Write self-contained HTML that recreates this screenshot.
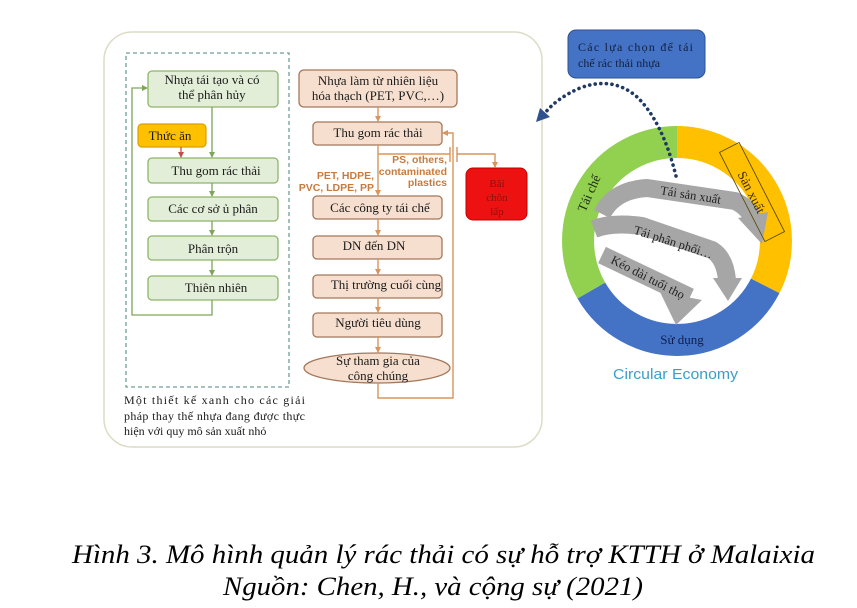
<!DOCTYPE html>
<html><head><meta charset="utf-8"><style>
html,body{margin:0;padding:0;background:#fff;}
svg{display:block;}
text{font-family:"Liberation Serif","DejaVu Serif",serif;}
.s{font-family:"Liberation Sans","DejaVu Sans",sans-serif;}
</style></head><body>
<svg width="857" height="608" viewBox="0 0 857 608" xmlns="http://www.w3.org/2000/svg">
<defs>
<marker id="ag" markerWidth="6" markerHeight="6" refX="5" refY="3" orient="auto" markerUnits="userSpaceOnUse"><path d="M0,0 L6,3 L0,6 z" fill="#7da65a"/></marker>
<marker id="ao" markerWidth="6" markerHeight="6" refX="5" refY="3" orient="auto" markerUnits="userSpaceOnUse"><path d="M0,0 L6,3 L0,6 z" fill="#d9955b"/></marker>
<marker id="ar" markerWidth="6" markerHeight="6" refX="5" refY="3" orient="auto" markerUnits="userSpaceOnUse"><path d="M0,0 L6,3 L0,6 z" fill="#c0504d"/></marker>
</defs>

<!-- outer rounded frame -->
<rect x="104" y="32" width="438" height="415" rx="28" fill="#fff" stroke="#dcdcc6" stroke-width="1.5"/>
<!-- dashed green region -->
<rect x="126" y="53" width="163" height="334" fill="none" stroke="#6f9e9a" stroke-width="1.3" stroke-dasharray="4,3"/>

<!-- left column green boxes -->
<g fill="#e3eed8" stroke="#8fb56a" stroke-width="1.3">
<rect x="148" y="71" width="130" height="36" rx="4"/>
<rect x="148" y="158" width="130" height="25" rx="4"/>
<rect x="148" y="197" width="130" height="24" rx="4"/>
<rect x="148" y="236" width="130" height="24" rx="4"/>
<rect x="148" y="276" width="130" height="24" rx="4"/>
</g>
<rect x="138" y="124" width="68" height="23" rx="4" fill="#ffc000" stroke="#d9a000" stroke-width="1.2"/>

<!-- left connectors -->
<g stroke="#7da65a" stroke-width="1.3" fill="none">
<line x1="212" y1="107" x2="212" y2="157" marker-end="url(#ag)"/>
<line x1="212" y1="183" x2="212" y2="196" marker-end="url(#ag)"/>
<line x1="212" y1="221" x2="212" y2="235" marker-end="url(#ag)"/>
<line x1="212" y1="260" x2="212" y2="275" marker-end="url(#ag)"/>
<polyline points="212,300 212,315 132,315 132,88 147,88" marker-end="url(#ag)"/>
</g>
<line x1="181" y1="147" x2="181" y2="157" stroke="#c0504d" stroke-width="1.3" marker-end="url(#ar)"/>

<g font-size="13" fill="#1b1b1b" text-anchor="middle">
<text x="212" y="84">Nhựa tái tạo và có</text>
<text x="212" y="99">thể phân hủy</text>
<text x="170" y="140">Thức ăn</text>
<text x="216" y="175">Thu gom rác thải</text>
<text x="213" y="213">Các cơ sở ủ phân</text>
<text x="213" y="253">Phân trộn</text>
<text x="216" y="292">Thiên nhiên</text>
</g>

<g font-size="12" fill="#1b1b1b">
<text x="124" y="404" textLength="181" lengthAdjust="spacing">Một thiết kế xanh cho các giải</text>
<text x="124" y="420" textLength="181" lengthAdjust="spacing">pháp thay thế nhựa đang được thực</text>
<text x="124" y="435">hiện với quy mô sản xuất nhỏ</text>
</g>

<!-- right column boxes -->
<g fill="#f6dfcf" stroke="#a4785a" stroke-width="1.3">
<rect x="299" y="70" width="158" height="37" rx="5"/>
<rect x="313" y="122" width="129" height="23" rx="4"/>
<rect x="313" y="196" width="129" height="23" rx="4"/>
<rect x="313" y="236" width="129" height="23" rx="4"/>
<rect x="313" y="275" width="129" height="23" rx="4"/>
<rect x="313" y="313" width="129" height="24" rx="4"/>
<ellipse cx="377" cy="368" rx="73" ry="15"/>
</g>
<rect x="466" y="168" width="61" height="52" rx="7" fill="#ee1111" stroke="#c00000" stroke-width="1"/>

<g stroke="#d9955b" stroke-width="1.4" fill="none">
<line x1="378" y1="107" x2="378" y2="121" marker-end="url(#ao)"/>
<line x1="378" y1="145" x2="378" y2="195" marker-end="url(#ao)"/>
<line x1="378" y1="154" x2="450" y2="154"/>
<line x1="450" y1="147" x2="450" y2="162"/>
<line x1="457" y1="147" x2="457" y2="162"/>
<polyline points="457,154 495,154 495,167" marker-end="url(#ao)"/>
<line x1="378" y1="219" x2="378" y2="235" marker-end="url(#ao)"/>
<line x1="378" y1="259" x2="378" y2="274" marker-end="url(#ao)"/>
<line x1="378" y1="298" x2="378" y2="312" marker-end="url(#ao)"/>
<line x1="378" y1="337" x2="378" y2="352" marker-end="url(#ao)"/>
<polyline points="378,383 378,398 453,398 453,133 443,133" marker-end="url(#ao)"/>
</g>

<g font-size="13" fill="#1b1b1b" text-anchor="middle">
<text x="378" y="85">Nhựa làm từ nhiên liệu</text>
<text x="378" y="100">hóa thạch (PET, PVC,…)</text>
<text x="378" y="137">Thu gom rác thải</text>
<text x="380" y="212">Các công ty tái chế</text>
<text x="374" y="250">DN đến DN</text>
<text x="386" y="289">Thị trường cuối cùng</text>
<text x="378" y="327">Người tiêu dùng</text>
<text x="378" y="365">Sự tham gia của</text>
<text x="378" y="380">công chúng</text>
</g>
<g font-size="10.5" font-weight="bold" fill="#c77b3e" text-anchor="end" class="s">
<text x="374" y="179" class="s">PET, HDPE,</text>
<text x="374" y="191" class="s">PVC, LDPE, PP</text>
<text x="447" y="163" class="s">PS, others,</text>
<text x="447" y="175" class="s">contaminated</text>
<text x="447" y="186" class="s">plastics</text>
</g>
<g font-size="11" fill="#8a1010" text-anchor="middle">
<text x="497" y="187">Bãi</text>
<text x="497" y="201">chôn</text>
<text x="497" y="215">lấp</text>
</g>

<!-- blue box -->
<rect x="568" y="30" width="137" height="48" rx="8" fill="#4472c4" stroke="#2f528f" stroke-width="1"/>
<g font-size="12" fill="#14213f">
<text x="578" y="51" textLength="115" lengthAdjust="spacing">Các lựa chọn để tái</text>
<text x="578" y="67">chế rác thải nhựa</text>
</g>

<!-- ring -->
<g fill="none" stroke-width="32">
<path d="M677,142 A99,99 0 0 1 765.2,285.9" stroke="#ffc000"/>
<path d="M765.2,285.9 A99,99 0 0 1 591.3,290.5" stroke="#4472c4"/>
<path d="M591.3,290.5 A99,99 0 0 1 677,142" stroke="#92d050"/>
</g>

<!-- gray arrows -->
<g fill="none" stroke="#a6a6a6" stroke-width="18" stroke-linejoin="round">
<path d="M602,214 Q614,190 647,188 L735,201 Q750,208 754,222"/>
<path d="M594,229 Q612,222 642,226 L712,250 Q725,258 727,280"/>
<path d="M602,255 L690,297"/>
</g>
<g fill="#a6a6a6">
<polygon points="738,218 768,212 762,244"/>
<polygon points="713,278 742,278 728,301"/>
<polygon points="660,292 702,300 676,325"/>
</g>

<!-- dotted arrow -->
<path d="M676,176 Q662,120 636,96 Q612,76 580,88 Q557,98 545,113" fill="none" stroke="#1f3864" stroke-width="3.6" stroke-linecap="round" stroke-dasharray="0.1,5.5"/>
<polygon points="536,122 540,108 550,117" fill="#2f528f"/>

<!-- ring labels -->
<g font-size="13" fill="#1b2a10">
<text transform="translate(593,195) rotate(-66)" text-anchor="middle">Tái chế</text>
</g>
<rect x="-50" y="-11" width="100" height="22" fill="none" stroke="#5a4a10" stroke-width="0.9" transform="translate(752,192) rotate(63)"/>
<text transform="translate(752,192) rotate(63)" text-anchor="middle" y="5" font-size="13" fill="#3a2a00">Sản xuất</text>
<text x="682" y="344" text-anchor="middle" font-size="13" fill="#0f1f4f">Sử dụng</text>
<g font-size="12.5" fill="#222" text-anchor="middle">
<text transform="translate(690,199) rotate(9)">Tái sản xuất</text>
<text transform="translate(672,246) rotate(18)">Tái phân phối…</text>
<text transform="translate(646,281) rotate(27)">Kéo dài tuổi thọ</text>
</g>
<text x="613" y="379" class="s" font-size="15" fill="#3a9fc8" textLength="125" lengthAdjust="spacingAndGlyphs">Circular Economy</text>

<!-- caption -->
<g font-size="26" font-style="italic" fill="#000">
<text x="72" y="563" textLength="743" lengthAdjust="spacingAndGlyphs">Hình 3. Mô hình quản lý rác thải có sự hỗ trợ KTTH ở Malaixia</text>
<text x="223" y="595" textLength="420" lengthAdjust="spacingAndGlyphs">Nguồn: Chen, H., và cộng sự (2021)</text>
</g>
</svg>
</body></html>
